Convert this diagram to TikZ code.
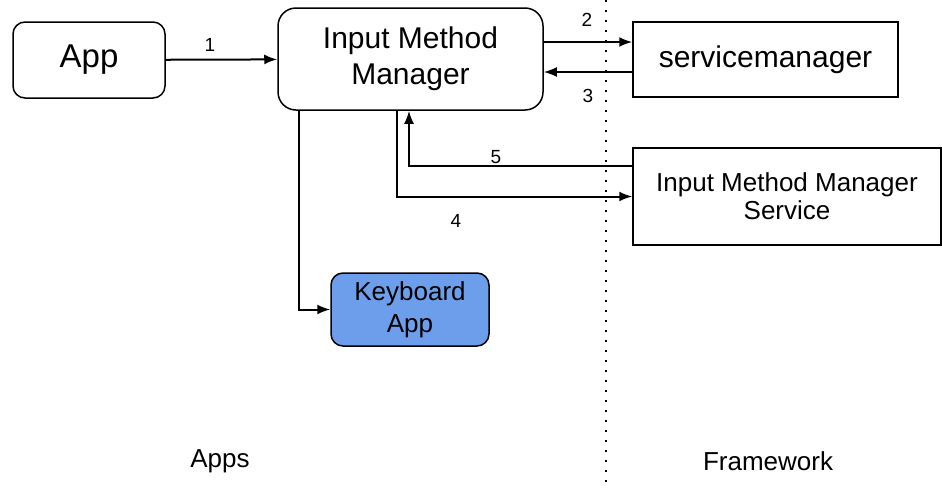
\documentclass[tikz,border=0pt]{standalone}
\usepackage{fontspec}
\setmainfont{Liberation Sans}
\usepackage{xcolor}
\usetikzlibrary{arrows.meta}
\definecolor{keyboardcolor}{RGB}{109,158,235}

\begin{document}
\begin{tikzpicture}[
    x=1pt, y=-1pt,
    box/.style={rectangle, draw, line width=1.5pt, align=center, inner sep=0pt},
    roundbox/.style={box, rounded corners=12pt},
    conn/.style={line width=2pt, -{Latex[length=13pt,width=10pt]}},
    num/.style={font=\fontsize{19}{21}\selectfont},
    side/.style={font=\fontsize{26}{30}\selectfont}
]
\useasboundingbox (0,0) rectangle (942,488);

% Nodes
\node[roundbox, minimum width=152pt, minimum height=76pt, font=\fontsize{33}{36}\selectfont] (app) at (89,60) {App};
\node[roundbox, rounded corners=18pt, minimum width=265pt, minimum height=102pt, font=\fontsize{30}{36}\selectfont] (imm) at (410.5,59) {Input Method\\Manager};
\node[box, minimum width=265pt, minimum height=75pt, font=\fontsize{30}{34}\selectfont] (sm) at (765.5,59.5) {servicemanager};
\node[box, minimum width=308pt, minimum height=97pt, font=\fontsize{26}{28}\selectfont] (imms) at (787,196.5) {Input Method Manager\\Service};
\node[roundbox, fill=keyboardcolor, minimum width=158pt, minimum height=73pt, font=\fontsize{26}{32}\selectfont] (kb) at (410,309.5) {Keyboard\\App};

% Divider
\coordinate (top) at (606,0);
\coordinate (bottom) at (606,488);
\draw[line width=2pt, dash pattern=on 2pt off 8pt] (top) -- (bottom);

% Arrows
\draw[conn] (app) -- (imm);
\draw[conn] ([yshift=17pt]imm.east) -- ([yshift=17.5pt]sm.west);
\draw[conn] ([yshift=-12.5pt]sm.west) -- ([yshift=-13pt]imm.east);
\draw[conn] ([yshift=30.5pt]imms.west) -| ([xshift=-1.5pt]imm.south);
\draw[conn] ([xshift=-13.5pt]imm.south) |- (imms.west);
\draw[conn] ([xshift=-112pt]imm.south) |- (kb.west);

% Labels
\node[num] (l1) at (210,45) {1};
\node[num] (l2) at (587,20) {2};
\node[num] (l3) at (588,96) {3};
\node[num] (l4) at (456,221) {4};
\node[num] (l5) at (496,157) {5};
\node[side] (apps) at (220,461) {Apps};
\node[side] (fw) at (768,461) {Framework};

\end{tikzpicture}
\end{document}
